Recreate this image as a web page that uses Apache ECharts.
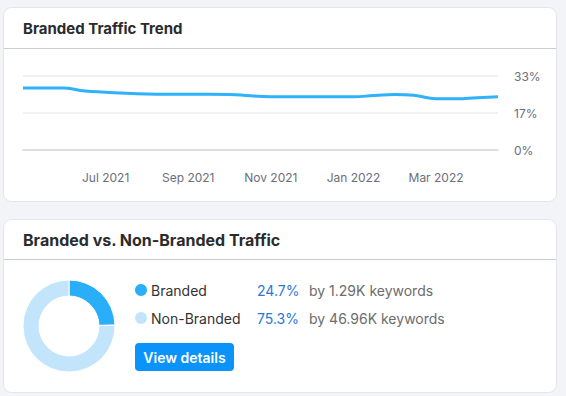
<!DOCTYPE html>
<html>
<head>
<meta charset="utf-8">
<script src="https://cdn.jsdelivr.net/npm/echarts@6/dist/echarts.min.js"></script>
<style>
html,body{margin:0;padding:0;background:#f3f4f8;}
#c{width:566px;height:396px;}
</style>
</head>
<body>
<div id="c"></div>
<script>
// Data
const dates = ['2021-05-01','2021-05-16','2021-06-01','2021-06-16','2021-07-01','2021-07-16',
  '2021-08-01','2021-08-16','2021-09-01','2021-09-16','2021-10-01','2021-10-16',
  '2021-11-01','2021-11-16','2021-12-01','2021-12-16','2022-01-01','2022-01-16',
  '2022-02-01','2022-02-16','2022-03-01','2022-03-16','2022-04-01','2022-04-16'];
const brandedShare = [27.7,27.7,27.6,26.3,25.8,25.3,25.0,24.9,24.9,24.9,24.8,24.2,
  23.8,23.8,23.8,23.8,23.8,24.3,24.8,24.3,22.9,22.8,23.3,23.7];
const yTicks = [0, 16.5, 33];
const monthNames = ['Jan','Feb','Mar','Apr','May','Jun','Jul','Aug','Sep','Oct','Nov','Dec'];
const segNames = ['Branded','Non-Branded'];
const segValues = [24.7, 75.3];
const segKeywords = ['1.29K','46.96K'];
const segColors = ['#2aaefa','#c3e5fc'];

const FONT = 'Inter, "Noto Sans", sans-serif';
const chart = echarts.init(document.getElementById('c'), null, {renderer:'svg'});

const legendGraphics = [];
segNames.forEach((n,i)=>{
  const y = 290 + i*28;
  legendGraphics.push({type:'circle', shape:{cx:141, cy:y, r:6}, style:{fill:segColors[i]}, z:10});
  legendGraphics.push({type:'text', x:151, y:y, style:{text:n, font:'400 14px '+FONT, fill:'#333333', textVerticalAlign:'middle'}, z:10});
  legendGraphics.push({type:'text', x:257, y:y, style:{text:segValues[i].toFixed(1)+'%', font:'400 14px '+FONT, fill:'#2a78d6', textVerticalAlign:'middle'}, z:10});
  legendGraphics.push({type:'text', x:309, y:y, style:{text:'by '+segKeywords[i]+' keywords', font:'400 14px '+FONT, fill:'#6c6c6c', textVerticalAlign:'middle'}, z:10});
});

chart.setOption({
  animation:false,
  backgroundColor:'#f3f4f8',
  graphic:[
    {type:'rect', shape:{x:3.5,y:7.5,width:553,height:194,r:8}, style:{fill:'#ffffff', stroke:'#e4e5eb', lineWidth:1}, z:0},
    {type:'line', shape:{x1:4,y1:48.5,x2:556,y2:48.5}, style:{stroke:'#c9cbd6', lineWidth:1}, z:1},
    {type:'text', x:23, y:28, style:{text:'Branded Traffic Trend', font:'700 15px '+FONT, fill:'#2b2b2b', textVerticalAlign:'middle'}, z:2},
    {type:'rect', shape:{x:3.5,y:219.5,width:553,height:173,r:8}, style:{fill:'#ffffff', stroke:'#e4e5eb', lineWidth:1}, z:0},
    {type:'line', shape:{x1:4,y1:259.5,x2:556,y2:259.5}, style:{stroke:'#c9cbd6', lineWidth:1}, z:1},
    {type:'text', x:23, y:240, style:{text:'Branded vs. Non-Branded Traffic', font:'700 16px '+FONT, fill:'#2b2b2b', textVerticalAlign:'middle'}, z:2},
    {type:'rect', shape:{x:135,y:343,width:99,height:28,r:4}, style:{fill:'#0a93f9'}, z:10},
    {type:'text', x:184.5, y:357, style:{text:'View details', font:'600 14px '+FONT, fill:'#ffffff', textAlign:'center', textVerticalAlign:'middle'}, z:11}
  ].concat(legendGraphics),
  grid:{left:23, right:68, top:76, bottom:246, containLabel:false},
  xAxis:{
    type:'category', data:dates, boundaryGap:false,
    axisLine:{show:true, lineStyle:{color:'#d6d7dd', width:1.5}},
    axisTick:{show:false},
    axisLabel:{
      interval:(idx)=> idx>0 && idx%4===0,
      hideOverlap:false,
      margin:21, color:'#6b6e7b', fontSize:12, fontFamily:FONT,
      formatter:(v)=>{const d=v.split('-'); return monthNames[+d[1]-1]+' '+d[0];}
    },
    splitLine:{show:false}
  },
  yAxis:{
    type:'value', position:'right', min:yTicks[0], max:yTicks[2], interval:yTicks[1],
    axisLine:{show:false}, axisTick:{show:false},
    axisLabel:{margin:16, color:'#6b6e7b', fontSize:12, fontFamily:FONT, formatter:(v)=>Math.round(v)+'%'},
    splitLine:{lineStyle:{color:'#ebecf0', width:1.5}}
  },
  series:[
    {type:'line', data:brandedShare, smooth:0.5, showSymbol:false, symbol:'none',
     lineStyle:{color:'#2fb1fb', width:3}, z:5},
    {type:'pie', center:[69,326], radius:[30,46], startAngle:90, clockwise:true,
     label:{show:false}, labelLine:{show:false}, silent:true,
     itemStyle:{borderColor:'#ffffff', borderWidth:1},
     data:segNames.map((n,i)=>({name:n, value:segValues[i], itemStyle:{color:segColors[i]}})), z:5}
  ]
});
</script>
</body>
</html>
